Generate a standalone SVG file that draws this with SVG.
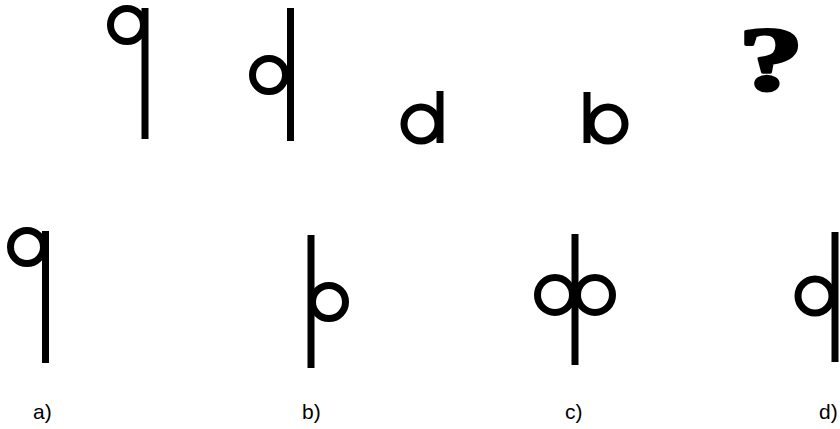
<svg xmlns="http://www.w3.org/2000/svg" width="840" height="429" viewBox="0 0 840 429">
<style>
.st{stroke:#000;stroke-width:7;fill:none}
.lb{font-family:"Liberation Sans",Arial,sans-serif;font-size:21px;fill:#000}
</style>
<rect width="840" height="429" fill="#fff"/>
<g id="top1"><line class="st" x1="145" y1="8" x2="145" y2="139"/><circle class="st" cx="127" cy="25" r="16.5"/></g>
<g id="top2"><line class="st" x1="290.5" y1="8" x2="290.5" y2="141"/><circle class="st" cx="269" cy="75" r="16.5"/></g>
<g id="top3"><line class="st" x1="440" y1="91" x2="440" y2="143"/><circle class="st" cx="421" cy="124" r="17"/></g>
<g id="top4"><line class="st" x1="587" y1="92" x2="587" y2="143"/><circle class="st" cx="608" cy="124" r="17"/></g>
<g id="question"><text transform="translate(771,90) scale(1.45,1)" x="0" y="0" text-anchor="middle" font-family="Liberation Serif, serif" font-weight="bold" font-size="90" fill="#000" stroke="#000" stroke-width="3" stroke-linejoin="round">?</text></g>
<g id="optA"><line class="st" x1="45.5" y1="231" x2="45.5" y2="363"/><circle class="st" cx="27" cy="247" r="16.5"/><text class="lb" x="33" y="419">a)</text></g>
<g id="optB"><line class="st" x1="311" y1="235" x2="311" y2="368"/><circle class="st" cx="329" cy="302" r="16.5"/><text class="lb" x="302" y="419">b)</text></g>
<g id="optC"><line class="st" x1="575" y1="234" x2="575" y2="365"/><circle class="st" cx="555" cy="295" r="17.5"/><circle class="st" cx="595" cy="295" r="17.5"/><text class="lb" x="565" y="419">c)</text></g>
<g id="optD"><line class="st" x1="835" y1="232" x2="835" y2="362"/><circle class="st" cx="815" cy="296" r="17"/><text class="lb" x="819" y="419">d)</text></g>
<g id="connectors"></g>
</svg>
